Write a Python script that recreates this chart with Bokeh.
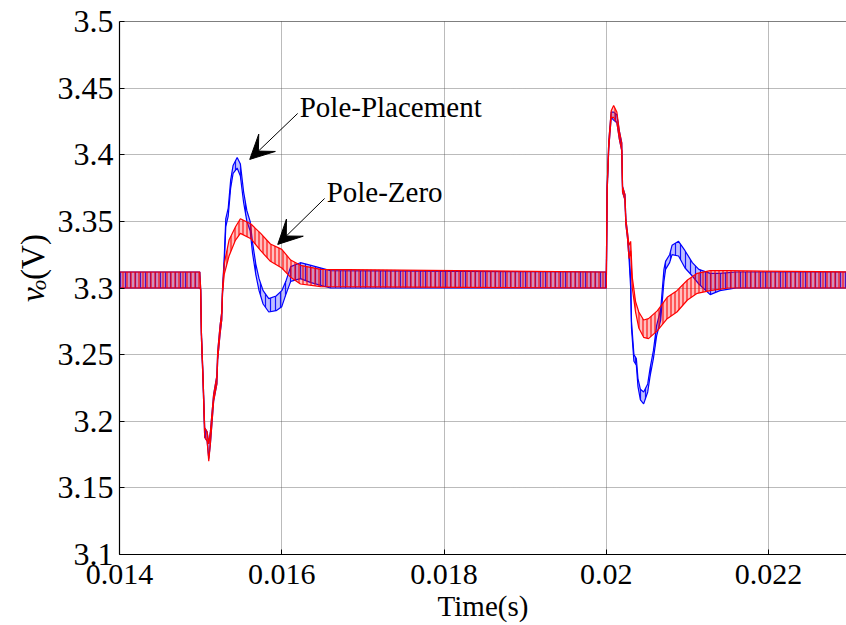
import math
from bokeh.plotting import figure
from bokeh.layouts import row
from bokeh.models import Range1d, FixedTicker, Label, Arrow, VeeHead, Span, ColumnDataSource
from bokeh.core.properties import value
from bokeh.embed import file_html
from bokeh.resources import INLINE

# ---------------- data ----------------
# Pole-Placement (blue): time, upper ripple envelope, lower ripple envelope
pp_t = [0.01400, 0.01499, 0.01500, 0.01501, 0.01503, 0.01505, 0.01508, 0.01510, 0.01512,
        0.01516, 0.01520, 0.01521, 0.01524, 0.01526, 0.01527, 0.01529, 0.01531, 0.01534,
        0.01537, 0.01540, 0.01545, 0.01549, 0.01553, 0.01557, 0.01561, 0.01564, 0.01568,
        0.01572, 0.01577, 0.01584, 0.01593, 0.01600, 0.01605, 0.01611, 0.01623, 0.01636,
        0.01660, 0.01999, 0.02000, 0.02001, 0.02003, 0.02006, 0.02009, 0.02013, 0.02016,
        0.02019, 0.02020, 0.02023, 0.02024, 0.02026, 0.02028, 0.02030, 0.02031, 0.02034,
        0.02037, 0.02039, 0.02042, 0.02046, 0.02051, 0.02054, 0.02058, 0.02062, 0.02067,
        0.02071, 0.02073, 0.02078, 0.02081, 0.02089, 0.02097, 0.02106, 0.02114, 0.02128,
        0.02140, 0.02160, 0.02300]
pp_hi = [3.312, 3.312, 3.300, 3.266, 3.233, 3.195, 3.192, 3.183, 3.192,
         3.220, 3.234, 3.252, 3.272, 3.282, 3.300, 3.322, 3.352, 3.360,
         3.381, 3.392, 3.398, 3.393, 3.372, 3.358, 3.350, 3.334, 3.318,
         3.307, 3.298, 3.292, 3.294, 3.298, 3.305, 3.316, 3.319, 3.317,
         3.313, 3.312, 3.312, 3.376, 3.410, 3.432, 3.432, 3.430, 3.418,
         3.409, 3.376, 3.370, 3.352, 3.342, 3.328, 3.306, 3.275, 3.250,
         3.247, 3.232, 3.224, 3.222, 3.228, 3.240, 3.253, 3.272, 3.284,
         3.314, 3.320, 3.325, 3.332, 3.335, 3.328, 3.319, 3.314, 3.311,
         3.311, 3.312, 3.312]
pp_lo = [3.300, 3.300, 3.299, 3.262, 3.229, 3.188, 3.185, 3.172, 3.183,
         3.215, 3.228, 3.246, 3.266, 3.276, 3.296, 3.316, 3.346, 3.354,
         3.375, 3.386, 3.390, 3.384, 3.364, 3.350, 3.343, 3.326, 3.310,
         3.298, 3.288, 3.282, 3.283, 3.286, 3.295, 3.305, 3.307, 3.304,
         3.300, 3.300, 3.300, 3.372, 3.405, 3.428, 3.426, 3.424, 3.412,
         3.403, 3.372, 3.366, 3.348, 3.338, 3.322, 3.300, 3.270, 3.245,
         3.242, 3.226, 3.216, 3.213, 3.222, 3.234, 3.247, 3.264, 3.276,
         3.305, 3.314, 3.319, 3.325, 3.324, 3.315, 3.309, 3.303, 3.295,
         3.298, 3.300, 3.300]

# Pole-Zero (red)
pz_t = [0.01400, 0.01499, 0.01500, 0.01501, 0.01503, 0.01505, 0.01508, 0.01510, 0.01512,
        0.01516, 0.01520, 0.01521, 0.01524, 0.01526, 0.01527, 0.01529, 0.01535, 0.01543,
        0.01549, 0.01562, 0.01574, 0.01586, 0.01600, 0.01611, 0.01623, 0.01648, 0.01999,
        0.02000, 0.02001, 0.02003, 0.02006, 0.02009, 0.02013, 0.02016, 0.02019, 0.02020,
        0.02023, 0.02024, 0.02026, 0.02028, 0.02030, 0.02032, 0.02036, 0.02040, 0.02046,
        0.02052, 0.02063, 0.02075, 0.02087, 0.02100, 0.02112, 0.02128, 0.02150, 0.02300]
pz_hi = [3.312, 3.312, 3.300, 3.266, 3.233, 3.195, 3.192, 3.183, 3.192,
         3.220, 3.234, 3.252, 3.272, 3.282, 3.300, 3.318, 3.336, 3.346,
         3.352, 3.348, 3.341, 3.333, 3.329, 3.321, 3.317, 3.314, 3.312,
         3.312, 3.376, 3.410, 3.433, 3.437, 3.432, 3.418, 3.409, 3.376,
         3.370, 3.352, 3.342, 3.332, 3.335, 3.308, 3.290, 3.282, 3.276,
         3.277, 3.283, 3.293, 3.298, 3.306, 3.311, 3.313, 3.313, 3.312]
pz_lo = [3.300, 3.300, 3.299, 3.262, 3.229, 3.188, 3.185, 3.170, 3.183,
         3.215, 3.228, 3.246, 3.266, 3.276, 3.296, 3.310, 3.324, 3.336,
         3.341, 3.337, 3.328, 3.320, 3.315, 3.308, 3.303, 3.301, 3.300,
         3.300, 3.372, 3.405, 3.428, 3.428, 3.424, 3.412, 3.403, 3.372,
         3.366, 3.348, 3.338, 3.322, 3.328, 3.300, 3.282, 3.270, 3.263,
         3.262, 3.268, 3.277, 3.282, 3.291, 3.296, 3.298, 3.300, 3.300]

x_ticks = [0.014, 0.016, 0.018, 0.020, 0.022]
x_tick_labels = ["0.014", "0.016", "0.018", "0.02", "0.022"]
y_ticks = [3.1, 3.15, 3.2, 3.25, 3.3, 3.35, 3.4, 3.45, 3.5]
y_tick_labels = ["3.1", "3.15", "3.2", "3.25", "3.3", "3.35", "3.4", "3.45", "3.5"]

y_label_parts = ["v", "o", "(V)"]

FONT = "Liberation Serif"
LEFT_W = 52

# ---------------- main plot ----------------
p = figure(width=846 - LEFT_W, height=625, output_backend="svg", toolbar_location=None,
           x_range=Range1d(0.014, 0.02296), y_range=Range1d(3.1, 3.5),
           min_border_left=119 - LEFT_W, min_border_right=0, min_border_top=21,
           min_border_bottom=71)
p.background_fill_color = "white"
p.border_fill_color = "white"
p.outline_line_color = None

for ax, ticks, labels in ((p.xaxis[0], x_ticks, x_tick_labels), (p.yaxis[0], y_ticks, y_tick_labels)):
    ax.ticker = FixedTicker(ticks=ticks)
    ax.major_label_overrides = {t: l for t, l in zip(ticks, labels)}
    ax.minor_tick_line_color = None
    ax.major_tick_in = 5
    ax.major_tick_out = 0
    ax.axis_line_color = "black"
    ax.axis_line_width = 1.2
    ax.major_tick_line_color = "black"
    ax.major_label_text_font = FONT
    ax.major_label_text_color = "black"

p.xaxis.major_label_text_font_size = "30px"
p.yaxis.major_label_text_font_size = "32px"
p.yaxis.major_label_standoff = 6
p.xaxis.major_label_standoff = 10
p.xaxis.axis_label = "Time(s)"
p.xaxis.axis_label_text_font = FONT
p.xaxis.axis_label_text_font_size = "29px"
p.xaxis.axis_label_text_font_style = "normal"
p.xaxis.axis_label_text_color = "black"
p.xaxis.axis_label_standoff = 3

p.grid.grid_line_color = "#555555"
p.grid.grid_line_dash = "1 1"
p.grid.grid_line_width = 1
p.grid.grid_line_alpha = 0.8

p.add_layout(Span(location=3.5, dimension="width", line_color="black", line_width=1))

src_pp = ColumnDataSource(dict(t=pp_t, hi=pp_hi, lo=pp_lo))
src_pz = ColumnDataSource(dict(t=pz_t, hi=pz_hi, lo=pz_lo))

blue = "#0000ff"
red = "#ff0000"

p.varea(x="t", y1="lo", y2="hi", source=src_pp, fill_color=blue, fill_alpha=0.25,
        hatch_pattern="|", hatch_color=blue, hatch_scale=5, hatch_weight=1.2, hatch_alpha=0.9)
p.line(x="t", y="hi", source=src_pp, line_color=blue, line_width=1.2)
p.line(x="t", y="lo", source=src_pp, line_color=blue, line_width=1.2)

p.varea(x="t", y1="lo", y2="hi", source=src_pz, fill_color=red, fill_alpha=0.25,
        hatch_pattern="|", hatch_color=red, hatch_scale=4, hatch_weight=1.2, hatch_alpha=0.9)
p.line(x="t", y="hi", source=src_pz, line_color=red, line_width=1.2)
p.line(x="t", y="lo", source=src_pz, line_color=red, line_width=1.2)

# annotations
p.add_layout(Arrow(end=VeeHead(size=24, fill_color="black", line_color="black"),
                   x_start=0.016196, y_start=3.4310, x_end=0.015605, y_end=3.3965,
                   line_color="black", line_width=1))
p.add_layout(Arrow(end=VeeHead(size=24, fill_color="black", line_color="black"),
                   x_start=0.016528, y_start=3.3672, x_end=0.015950, y_end=3.3327,
                   line_color="black", line_width=1))
p.add_layout(Label(x=0.016221, y=3.4355, text="Pole-Placement", text_font=FONT,
                   text_font_size="29px", text_color="black", text_baseline="alphabetic"))
p.add_layout(Label(x=0.016553, y=3.3717, text="Pole-Zero", text_font=FONT,
                   text_font_size="29px", text_color="black", text_baseline="alphabetic"))

# ---------------- left strip holding the y-axis title ----------------
q = figure(width=LEFT_W, height=625, output_backend="svg", toolbar_location=None,
           x_range=Range1d(0, LEFT_W), y_range=Range1d(0, 625),
           min_border=0, x_axis_type=None, y_axis_type=None)
q.outline_line_color = None
q.grid.visible = False
ang = math.pi / 2
q.text(x=[32], y=[625 - 329], text=[y_label_parts[0]], angle=ang,
       text_font=value(FONT), text_font_style="italic", text_font_size="33px",
       text_baseline="alphabetic", text_color="black")
q.text(x=[38.5], y=[625 - 315], text=[y_label_parts[1]], angle=ang,
       text_font=value(FONT), text_font_style="italic", text_font_size="21px",
       text_baseline="alphabetic", text_color="black")
q.text(x=[32], y=[625 - 303], text=[y_label_parts[2]], angle=ang,
       text_font=value(FONT), text_font_style="normal", text_font_size="33px",
       text_baseline="alphabetic", text_color="black")

layout = row(q, p, spacing=0)
open("out.html", "w").write(file_html(layout, INLINE))
